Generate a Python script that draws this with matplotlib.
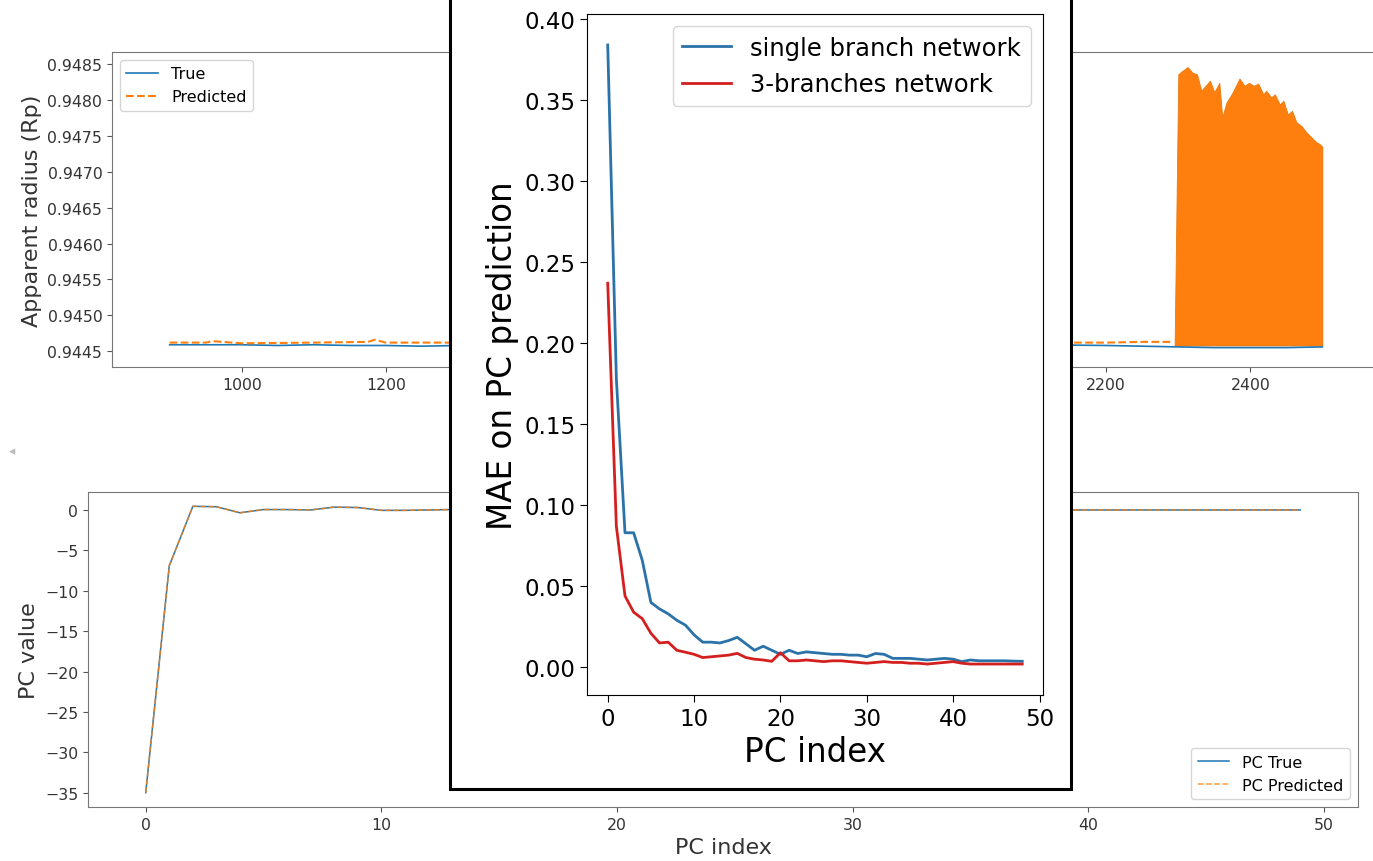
import matplotlib
matplotlib.use("Agg")
import matplotlib.pyplot as plt
from matplotlib.patches import Rectangle
from matplotlib.ticker import FormatStrFormatter

# --- top background panel: apparent radius, true vs predicted ---
time_true = [900, 1000, 1050, 1100, 1150, 1200, 1250, 1300, 1500, 1700, 1900, 2100, 2200, 2300, 2350, 2400, 2450, 2500]
radius_true = [0.94459, 0.94459, 0.94458, 0.94459, 0.94458, 0.94458, 0.94457, 0.94458, 0.94458, 0.94459,
               0.94459, 0.94459, 0.94458, 0.94456, 0.94455, 0.94455, 0.94455, 0.94456]
time_pred = [900, 950, 960, 1000, 1100, 1175, 1185, 1200, 1300, 1500, 1800, 2100, 2200, 2250, 2293]
radius_pred = [0.94462, 0.94462, 0.94464, 0.94461, 0.94462, 0.94463, 0.94466, 0.94462, 0.94462, 0.94462,
               0.94462, 0.94462, 0.94462, 0.94463, 0.94463]
# upper envelope of the oscillating prediction after ~2295
burst_time = [2295, 2300, 2306, 2313, 2320, 2326, 2332, 2338, 2344, 2350, 2357, 2361, 2367, 2374,
              2380, 2385, 2392, 2398, 2405, 2411, 2418, 2422, 2429, 2434, 2441, 2446, 2452, 2458,
              2464, 2471, 2478, 2485, 2492, 2496, 2500]
burst_top = [0.94463, 0.94836, 0.94841, 0.94846, 0.94838, 0.94836, 0.94813, 0.94820, 0.94827, 0.94811,
             0.94824, 0.94776, 0.94797, 0.94808, 0.94820, 0.94830, 0.94820, 0.94824, 0.94820, 0.94823,
             0.94808, 0.94813, 0.94804, 0.94808, 0.94794, 0.94799, 0.94780, 0.94785, 0.94769, 0.94764,
             0.94755, 0.94748, 0.94741, 0.94739, 0.94735]
burst_low = 0.94458

# --- bottom background panel: PC values ---
pc_idx = list(range(50))
pc_true = [-35.0, -6.9, 0.45, 0.4, -0.35, 0.05, 0.05, 0.0, 0.35, 0.3,
           -0.05, -0.05, 0.0, 0.05, 0.0, 0.0, -0.05, 0.0, 0.0, 0.0,
           0.0, 0.0, 0.0, -0.05, 0.0, 0.0, 0.0, 0.0, 0.0, 0.0,
           0.0, 0.0, 0.0, 0.0, 0.0, 0.0, 0.0, 0.0, 0.0, 0.0,
           0.0, 0.0, 0.0, 0.0, 0.0, 0.0, 0.0, 0.0, 0.0, 0.0]
pc_pred = [-35.0, -6.9, 0.45, 0.4, -0.35, 0.05, 0.05, 0.0, 0.35, 0.3,
           -0.05, -0.05, 0.0, 0.05, 0.0, 0.0, -0.05, 0.0, 0.0, 0.0,
           0.0, 0.0, 0.0, -0.05, 0.0, 0.0, 0.0, 0.0, 0.0, 0.0,
           0.0, 0.0, 0.0, 0.0, 0.0, 0.0, 0.0, 0.0, 0.0, 0.0,
           0.0, 0.0, 0.0, 0.0, 0.0, 0.0, 0.0, 0.0, 0.0, 0.0]

# --- inset: MAE per PC index ---
mae_idx = list(range(49))
mae_single = [0.384, 0.178, 0.083, 0.083, 0.066, 0.040, 0.036, 0.033, 0.029, 0.026,
              0.020, 0.0155, 0.0155, 0.015, 0.0165, 0.0185, 0.0145, 0.0105, 0.013, 0.0105,
              0.008, 0.0105, 0.0085, 0.0095, 0.009, 0.0085, 0.008, 0.008, 0.0075, 0.0075,
              0.0065, 0.0085, 0.008, 0.0055, 0.0055, 0.0055, 0.005, 0.0045, 0.005, 0.0055,
              0.005, 0.0035, 0.0045, 0.004, 0.004, 0.004, 0.004, 0.0038, 0.0037]
mae_three = [0.237, 0.087, 0.044, 0.034, 0.030, 0.021, 0.015, 0.0155, 0.0105, 0.0093,
             0.008, 0.006, 0.0065, 0.007, 0.0075, 0.0086, 0.006, 0.005, 0.0045, 0.0037,
             0.009, 0.004, 0.004, 0.0045, 0.004, 0.0035, 0.004, 0.004, 0.0035, 0.003,
             0.0025, 0.003, 0.0035, 0.003, 0.003, 0.0025, 0.0025, 0.002, 0.0025, 0.003,
             0.0035, 0.0025, 0.002, 0.002, 0.002, 0.002, 0.002, 0.002, 0.002]

W, H = 1373, 862


def px_box(left, top, right, bottom):
    return [left / W, (H - bottom) / H, (right - left) / W, (bottom - top) / H]


fig = plt.figure(figsize=(W / 100, H / 100), dpi=100)
grey = '#555555'

# top panel (ticks under the inset are hidden anyway)
ax1 = fig.add_axes(px_box(112, 53, 1380, 368))
ax1.plot(time_true, radius_true, color='C0', lw=1.2, label='True')
ax1.plot(time_pred, radius_pred, color='C1', lw=1.5, ls='--', label='Predicted')
ax1.fill_between(burst_time, burst_low, burst_top, color='C1', lw=0.6, edgecolor='#e87a10')
ax1.set_xlim(820, 2580)
ax1.set_ylim(0.94428, 0.94867)
ax1.set_xticks([1000, 1200, 2200, 2400])
ax1.set_yticks([0.9445, 0.9450, 0.9455, 0.9460, 0.9465, 0.9470, 0.9475, 0.9480, 0.9485])
ax1.yaxis.set_major_formatter(FormatStrFormatter('%.4f'))
ax1.set_ylabel('Apparent radius (Rp)', fontsize=16, color='#333333')
ax1.legend(loc='upper left', fontsize=11.5)

# bottom panel
ax2 = fig.add_axes(px_box(88, 493, 1358, 808))
ax2.plot(pc_idx, pc_true, color='C0', lw=1.1, label='PC True')
ax2.plot(pc_idx, pc_pred, color='C1', lw=1.1, ls='--', alpha=0.8, label='PC Predicted')
ax2.set_yticks([0, -5, -10, -15, -20, -25, -30, -35])
ax2.set_xticks([0, 10, 20, 30, 40, 50])
ax2.set_xlabel('PC index', fontsize=16, color='#333333')
ax2.set_ylabel('PC value', fontsize=16, color='#333333')
ax2.legend(loc='lower right', fontsize=11.5)

for ax in (ax1, ax2):
    ax.tick_params(labelsize=11.3, colors=grey, labelcolor='#333333')
    for s in ax.spines.values():
        s.set_color('#777777')

fig.text(12 / W, 1 - 452 / H, '\u25c2', color='#bbbbbb', fontsize=9, ha='center', va='center')

# pasted inset with black frame
frame = Rectangle((450 / W, (H - 790) / H), 621 / W, 0.95, transform=fig.transFigure,
                  facecolor='white', edgecolor='black', lw=2.2, zorder=5)
fig.add_artist(frame)

ax3 = fig.add_axes(px_box(587, 15, 1043, 696))
ax3.set_zorder(10)
ax3.plot(mae_idx, mae_single, color='#2a72a8', lw=2, label='single branch network')
ax3.plot(mae_idx, mae_three, color='#d41f1f', lw=2, label='3-branches network')
ax3.set_xticks([0, 10, 20, 30, 40, 50])
ax3.set_yticks([0.0, 0.05, 0.10, 0.15, 0.20, 0.25, 0.30, 0.35, 0.40])
ax3.yaxis.set_major_formatter(FormatStrFormatter('%.2f'))
ax3.tick_params(labelsize=16.5, length=5)
ax3.set_xlabel('PC index', fontsize=23.5)
ax3.set_ylabel('MAE on PC prediction', fontsize=23.5)
ax3.legend(loc='upper right', fontsize=17.5)

fig.savefig('out.png', dpi=100)
